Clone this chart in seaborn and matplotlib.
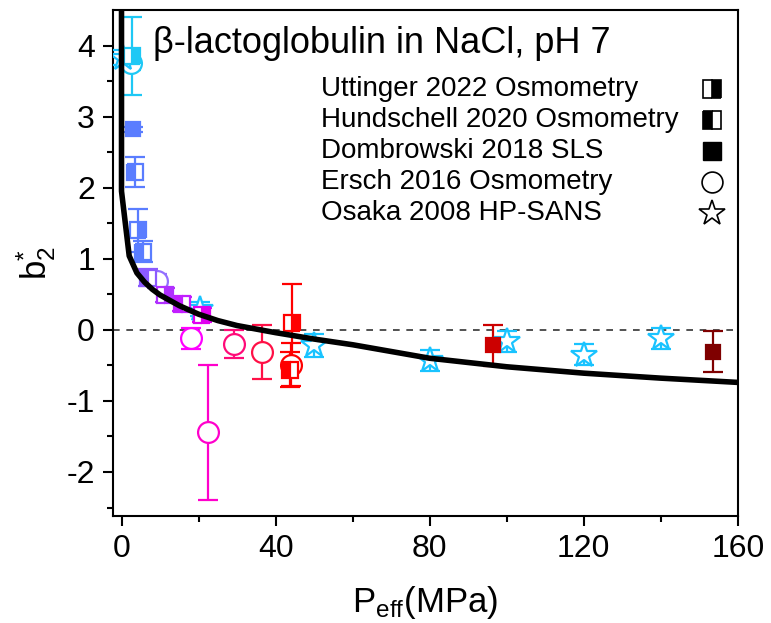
import matplotlib
matplotlib.use("Agg")
import matplotlib.pyplot as plt
import seaborn as sns

# model curve
curve_p = [0.0, 0.0, 2, 4, 6, 8, 10, 15, 20, 25, 30, 40, 50, 60, 80, 100, 120, 140, 160]
curve_b = [6.0, 1.95, 1.04, 0.80, 0.67, 0.57, 0.49, 0.34, 0.22, 0.13, 0.06, -0.04, -0.13, -0.21, -0.40, -0.52, -0.61, -0.68, -0.74]

# Uttinger 2022 Osmometry (right half filled squares)
utt_p = [2.6, 4.4, 11.4, 21.0, 44.3]
utt_b = [3.85, 1.40, 0.49, 0.21, 0.10]
utt_err = [0.55, 0.30, 0.10, 0.10, 0.55]
utt_col = ["#1ec8f5", "#5a7dff", "#b030ff", "#e000f0", "#ff0000"]

# Hundschell 2020 Osmometry (left half filled squares)
hun_p = [3.4, 5.7, 7.0, 15.8, 43.8]
hun_b = [2.22, 1.10, 0.73, 0.36, -0.56]
hun_err = [0.21, 0.15, 0.12, 0.10, 0.25]
hun_col = ["#5a7dff", "#5a7dff", "#8c5aff", "#c21eff", "#ff0000"]

# Dombrowski 2018 SLS (filled squares)
dom_p = [3.1, 96.4, 153.6]
dom_b = [2.82, -0.22, -0.31]
dom_err = [0.04, 0.29, 0.29]
dom_col = ["#5a7dff", "#cc0000", "#7f0000"]

# Ersch 2016 Osmometry (open circles)
ers_p = [2.5, 9.3, 18.1, 22.5, 29.3, 36.4, 44.0]
ers_b = [3.75, 0.69, -0.12, -1.44, -0.20, -0.31, -0.49]
ers_err = [0.10, 0.10, 0.15, 0.95, 0.20, 0.38, 0.30]
ers_col = ["#1ec8f5", "#9370ff", "#ff00ff", "#ff00cc", "#ff0a78", "#ff1046", "#ff0000"]

# Osaka 2008 HP-SANS (open stars)
osa_p = [0.5, 20.5, 50, 80, 100, 120, 140]
osa_b = [3.83, 0.29, -0.22, -0.43, -0.16, -0.35, -0.12]
osa_err = [0.10, 0.10, 0.16, 0.15, 0.15, 0.15, 0.15]
osa_col = "#19c3ff"

legend_labels = ["Uttinger 2022 Osmometry", "Hundschell 2020 Osmometry",
                 "Dombrowski 2018 SLS", "Ersch 2016 Osmometry", "Osaka 2008 HP-SANS"]

sns.set_theme(style="ticks")
plt.rcParams['font.family'] = ['Liberation Sans', 'DejaVu Sans']
plt.rcParams['mathtext.fontset'] = 'custom'
plt.rcParams['mathtext.rm'] = 'Liberation Sans'
plt.rcParams['mathtext.it'] = 'Liberation Sans'
plt.rcParams['text.color'] = 'black'
plt.rcParams['axes.labelcolor'] = 'black'
plt.rcParams['xtick.color'] = 'black'
plt.rcParams['ytick.color'] = 'black'

fig = plt.figure(figsize=(7.71, 6.23), dpi=100)
ax = fig.add_axes([0.1466, 0.1717, 0.8104, 0.8123])

ax.axhline(0, color="#333333", lw=1.2, ls=(0, (4, 4)), zorder=1)

def draw(ps, bs, errs, cols, marker, ms, fill):
    for i in range(len(ps)):
        c = cols if isinstance(cols, str) else cols[i]
        kw = dict(fmt=marker, color=c, ms=ms, mew=1.6, elinewidth=1.6,
                  capsize=7, capthick=1.6, zorder=3)
        if fill == "open":
            kw.update(mfc="white", mec=c)
        elif fill == "full":
            kw.update(mfc=c, mec=c)
        else:
            kw.update(mfc=c, mec=c, fillstyle=fill, markerfacecoloralt="white")
        ax.errorbar([ps[i]], [bs[i]], yerr=[errs[i]], **kw)

draw(ers_p, ers_b, ers_err, ers_col, "o", 15, "open")
draw(osa_p, osa_b, osa_err, osa_col, "*", 19, "open")
draw(hun_p, hun_b, hun_err, hun_col, "s", 11, "left")
draw(utt_p, utt_b, utt_err, utt_col, "s", 11, "right")
draw(dom_p, dom_b, dom_err, dom_col, "s", 10, "full")

sns.lineplot(x=curve_p, y=curve_b, estimator=None, sort=False, color="black",
             lw=4, ax=ax, zorder=4)

ax.set_xlim(-2.2, 160)
ax.set_ylim(-2.62, 4.5)
ax.set_xticks([0, 40, 80, 120, 160])
ax.set_xticks([20, 60, 100, 140], minor=True)
ax.set_yticks([-2, -1, 0, 1, 2, 3, 4])
ax.set_yticks([-2.5, -1.5, -0.5, 0.5, 1.5, 2.5, 3.5], minor=True)
ax.set_yticklabels(["-2", "-1", "0", "1", "2", "3", "4"])
ax.tick_params(which="major", direction="out", length=7, width=1.5, labelsize=23, pad=6)
ax.tick_params(which="minor", direction="out", length=4, width=1.5)
for s in ax.spines.values():
    s.set_linewidth(1.5)
    s.set_color("black")

ax.set_xlabel(r"P$_{\mathrm{eff}}$(MPa)", fontsize=25, labelpad=14)
ax.set_ylabel(r"b$^{*}_{2}$", fontsize=25, labelpad=6)

ax.text(0.064, 0.968, "β-lactoglobulin in NaCl, pH 7", transform=ax.transAxes,
        fontsize=26, va="top", ha="left")

# hand made legend: text column on the left, marker column on the right
styles = [("s", "right"), ("s", "left"), ("s", "full"), ("o", "none"), ("*", "none")]
sizes = [13, 13, 13, 15, 19]
for i, lab in enumerate(legend_labels):
    yy = 0.844 - i * 0.0615
    ax.text(0.333, yy, lab, transform=ax.transAxes, fontsize=20, va="center", ha="left")
    m, f = styles[i]
    if f == "none":
        ax.plot([0.958], [yy], marker=m, ms=sizes[i], mfc="white", mec="black", mew=1.2,
                transform=ax.transAxes, ls="none")
    elif f == "full":
        ax.plot([0.958], [yy], marker=m, ms=sizes[i], mfc="black", mec="black",
                transform=ax.transAxes, ls="none")
    else:
        ax.plot([0.958], [yy], marker=m, ms=sizes[i], mfc="black", mec="black", mew=1.2,
                fillstyle=f, markerfacecoloralt="white", transform=ax.transAxes, ls="none")

fig.savefig("out.png", dpi=100)
